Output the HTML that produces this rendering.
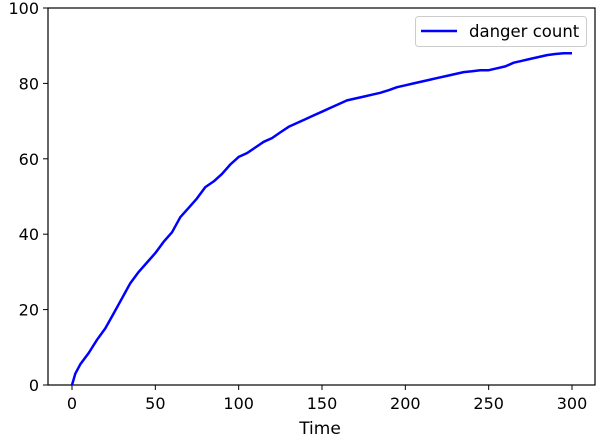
<!DOCTYPE html>
<html><head><meta charset="utf-8"><style>
body{margin:0;background:#fff;}
svg{display:block;font-family:"DejaVu Sans","Liberation Sans",sans-serif;}
</style></head><body>
<svg id="chart" width="598" height="438"></svg>
<script>
const timeValues=[0,2,5,10,15,20,25,30,35,40,45,50,55,60,65,70,75,80,85,90,95,100,105,110,115,120,125,130,135,140,145,150,155,160,165,170,175,180,185,190,195,200,205,210,215,220,225,230,235,240,245,250,255,260,265,270,275,280,285,290,295,300];
const dangerCounts=[0,3,5.5,8.5,12,15,19,23,27,30,32.5,35,38,40.5,44.5,47,49.5,52.5,54,56,58.5,60.5,61.5,63,64.5,65.5,67,68.5,69.5,70.5,71.5,72.5,73.5,74.5,75.5,76,76.5,77,77.5,78.2,79,79.5,80,80.5,81,81.5,82,82.5,83,83.2,83.5,83.5,84,84.5,85.5,86,86.5,87,87.5,87.8,88,88];
const xTicks=[0,50,100,150,200,250,300];
const yTicks=[0,20,40,60,80,100];
const NS="http://www.w3.org/2000/svg";
const svg=document.getElementById('chart');
const L=48,R=595,T=8,B=385;
const xs=v=>72+v*(500/300);
const ys=v=>B-v*(B-T)/100;
function mk(tag,attrs,parent){const e=document.createElementNS(NS,tag);for(const k in attrs)e.setAttribute(k,attrs[k]);(parent||svg).appendChild(e);return e;}
const frame=mk('rect',{x:L,y:T,width:R-L,height:B-T,fill:'none',stroke:'#000','stroke-width':1.2});


xTicks.forEach(t=>{
  const l=mk('line',{x1:xs(t),x2:xs(t),y1:B,y2:B+5,stroke:'#000'});
  
  
  const tx=mk('text',{x:xs(t),y:B+24,'text-anchor':'middle','font-size':16});
  tx.textContent=t;
  
  
});
yTicks.forEach(t=>{
  const l=mk('line',{x1:L-5,x2:L,y1:ys(t),y2:ys(t),stroke:'#000'});
  
  
  const tx=mk('text',{x:L-9,y:ys(t)+6,'text-anchor':'end','font-size':16});
  tx.textContent=t;
  
  
});
const xl=mk('text',{x:320,y:434,'text-anchor':'middle','font-size':17});
xl.textContent='Time';


const pts=timeValues.map((t,i)=>xs(t).toFixed(1)+','+ys(dangerCounts[i]).toFixed(1)).join(' ');
const line=mk('polyline',{points:pts,fill:'none',stroke:'#0000ff','stroke-width':2.5,'stroke-linejoin':'round'});


const lg=mk('g',{});


mk('rect',{x:415.5,y:16.5,width:171,height:30,rx:3,fill:'#fff',stroke:'#ccc'},lg);
mk('line',{x1:421,x2:457,y1:31,y2:31,stroke:'#0000ff','stroke-width':2.5},lg);
const lt=mk('text',{x:469,y:37,'font-size':16.5},lg);
lt.textContent='danger count';


</script>
</body></html>
